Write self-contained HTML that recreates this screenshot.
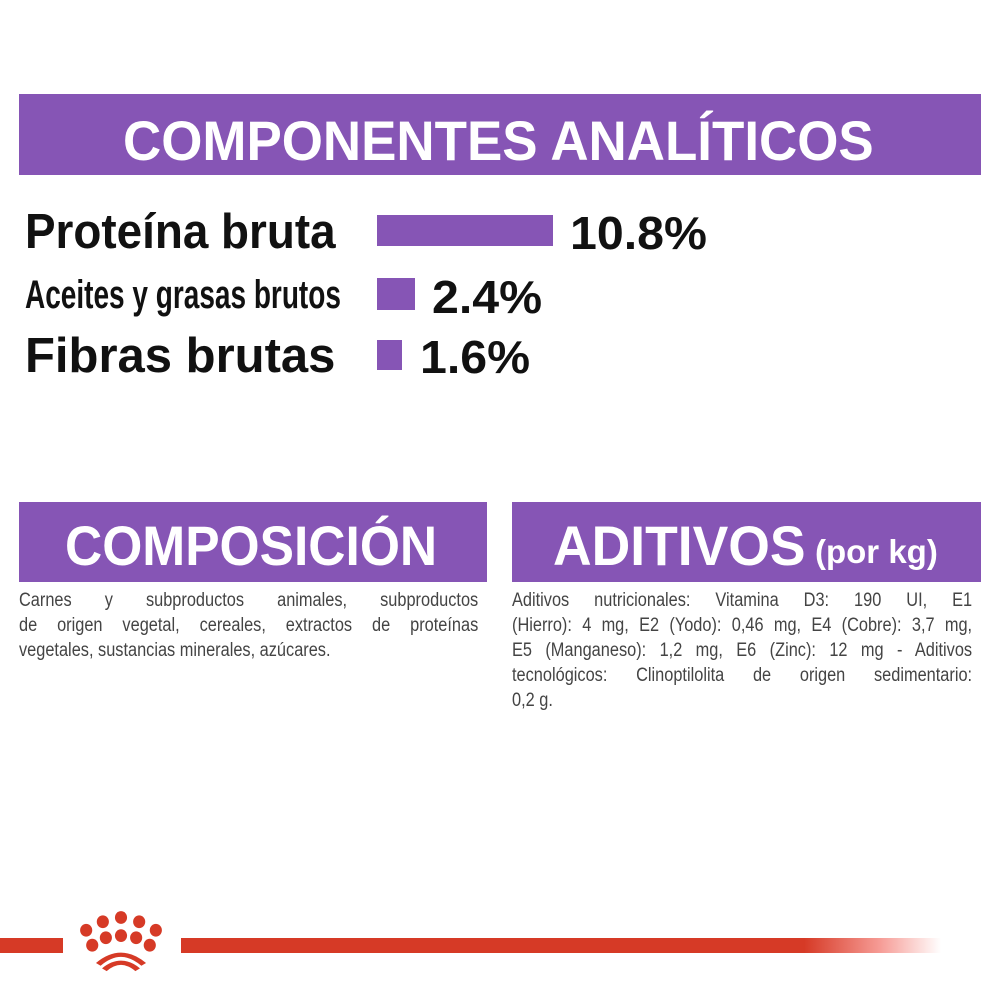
<!DOCTYPE html>
<html><head><meta charset="utf-8"><style>
body{margin:0;width:1000px;height:1000px;background:#fff;position:relative;overflow:hidden;font-family:"Liberation Sans",sans-serif}
.abs{position:absolute}
.band{position:absolute;background:#8655b5}
.h{position:absolute;color:#fff;font-weight:bold;white-space:nowrap;transform-origin:0 0;line-height:1}
.lbl{position:absolute;font-weight:bold;color:#111;white-space:nowrap;transform-origin:0 0;line-height:1}
.bar{position:absolute;background:#8655b5}
.p{position:absolute;font-family:"Liberation Sans",sans-serif;font-size:19px;color:#444;line-height:25px;transform:scaleX(0.86);transform-origin:0 0}
.p div{text-align:justify;text-align-last:justify;white-space:nowrap}
.p div.l{text-align-last:left}
</style></head><body>
<div class="band" style="left:19px;top:94px;width:962px;height:81px"></div>
<div class="h" style="left:123px;top:113px;font-size:56px;transform:scaleX(0.945)">COMPONENTES ANALÍTICOS</div>

<div class="lbl" style="left:25px;top:208px;font-size:49px;transform:scaleX(0.935)">Proteína bruta</div>
<div class="bar" style="left:377px;top:215px;width:176px;height:31px"></div>
<div class="lbl" style="left:570px;top:210px;font-size:46px;transform:scaleX(1.05)">10.8%</div>

<div class="lbl" style="left:25px;top:275px;font-size:40px;transform:scaleX(0.7)">Aceites y grasas brutos</div>
<div class="bar" style="left:377px;top:278px;width:38px;height:32px"></div>
<div class="lbl" style="left:432px;top:274px;font-size:46px;transform:scaleX(1.05)">2.4%</div>

<div class="lbl" style="left:25px;top:332px;font-size:49px;transform:scaleX(1.0)">Fibras brutas</div>
<div class="bar" style="left:377px;top:340px;width:25px;height:30px"></div>
<div class="lbl" style="left:420px;top:334px;font-size:46px;transform:scaleX(1.05)">1.6%</div>

<div class="band" style="left:19px;top:502px;width:468px;height:80px"></div>
<div class="h" style="left:65px;top:518px;font-size:56px;transform:scaleX(0.92)">COMPOSICIÓN</div>
<div class="band" style="left:512px;top:502px;width:469px;height:80px"></div>
<div class="h" style="left:553px;top:518px;font-size:56px;transform:scaleX(0.955)">ADITIVOS</div>
<div class="h" style="left:815px;top:535px;font-size:33px;transform:scaleX(1.0)">(por kg)</div>

<div class="p" style="left:19px;top:588px;width:534px">
<div>Carnes y subproductos animales, subproductos</div>
<div>de origen vegetal, cereales, extractos de proteínas</div>
<div class="l">vegetales, sustancias minerales, azúcares.</div>
</div>
<div class="p" style="left:512px;top:588px;width:535px">
<div>Aditivos nutricionales: Vitamina D3: 190 UI, E1</div>
<div>(Hierro): 4 mg, E2 (Yodo): 0,46 mg, E4 (Cobre): 3,7 mg,</div>
<div>E5 (Manganeso): 1,2 mg, E6 (Zinc): 12 mg - Aditivos</div>
<div>tecnológicos: Clinoptilolita de origen sedimentario:</div>
<div class="l">0,2 g.</div>
</div>

<div class="abs" style="left:0;top:938px;width:63px;height:15px;background:#d63a26"></div>
<div class="abs" style="left:181px;top:938px;width:760px;height:15px;background:linear-gradient(to right,#d63a26 0%,#d63a26 82%,rgba(240,90,80,0.6) 92%,rgba(255,255,255,0) 100%)"></div>
<svg class="abs" style="left:68px;top:910px" width="106" height="64" viewBox="0 5 70 60" preserveAspectRatio="none">
<g fill="#d63a26">
<ellipse cx="12" cy="24" rx="4" ry="6"/><ellipse cx="23" cy="16" rx="4" ry="6"/><ellipse cx="35" cy="12" rx="4" ry="6"/><ellipse cx="47" cy="16" rx="4" ry="6"/><ellipse cx="58" cy="24" rx="4" ry="6"/>
<ellipse cx="16" cy="38" rx="4" ry="6"/><ellipse cx="25" cy="31" rx="4" ry="6"/><ellipse cx="35" cy="29" rx="4" ry="6"/><ellipse cx="45" cy="31" rx="4" ry="6"/><ellipse cx="54" cy="38" rx="4" ry="6"/>
</g>
<path d="M20 56 Q35 38 50 56" stroke="#d63a26" stroke-width="4" fill="none"/>
<path d="M24 61 Q35 48 46 61" stroke="#d63a26" stroke-width="4" fill="none"/>
</svg>
</body></html>
